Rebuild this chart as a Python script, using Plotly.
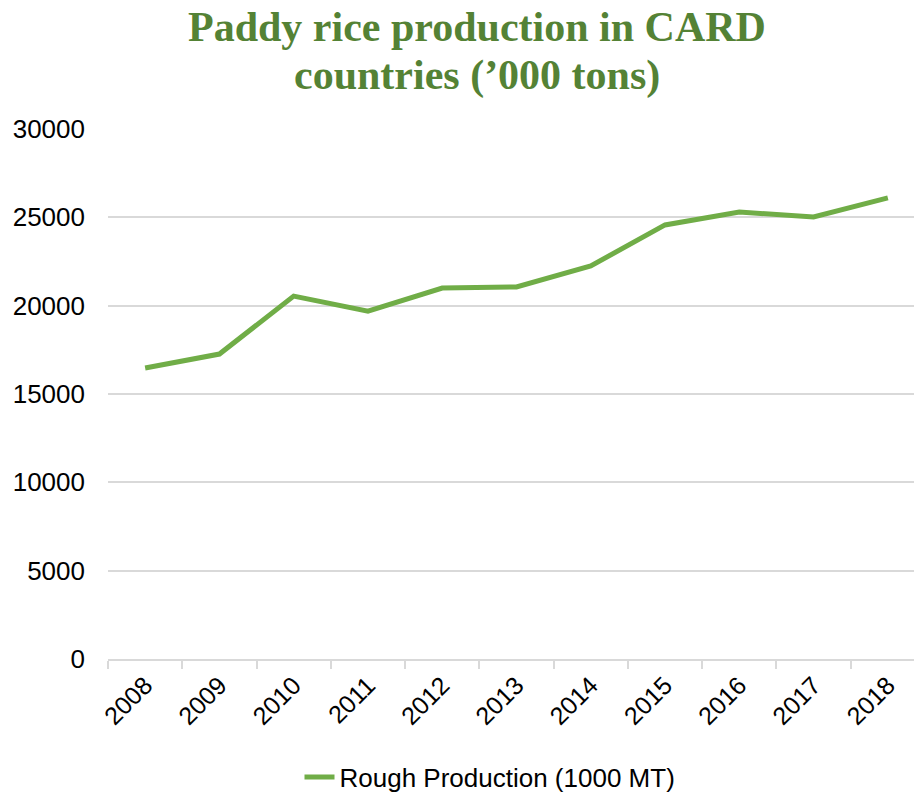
import plotly.graph_objects as go

years = ["2008", "2009", "2010", "2011", "2012", "2013", "2014", "2015", "2016", "2017", "2018"]
production = [16470, 17260, 20540, 19690, 21000, 21060, 22250, 24570, 25300, 25020, 26100]
y_ticks = [0, 5000, 10000, 15000, 20000, 25000, 30000]
title_lines = ["Paddy rice production in CARD", "countries (’000 tons)"]

# page is rendered with a body margin, so the figure is offset slightly
W, H = 922, 795
L, R, T, B = 95, 5, 121, 144
PH = H - T - B
PW = W - L - R
OX = 8  # horizontal page offset

fig = go.Figure()
fig.add_trace(go.Scatter(
    x=years, y=production, mode="lines",
    name="Rough Production (1000 MT)",
    line=dict(color="#70AD47", width=5),
))

title_center_x = (474 - OX - L) / PW
for text, mid in zip(title_lines, [19, 68]):
    fig.add_annotation(
        text=text,
        font=dict(family="Liberation Serif", size=42, color="#548235", weight="bold"),
        x=title_center_x, xref="paper", xanchor="center",
        y=1 + (T - mid) / PH, yref="paper", yanchor="middle",
        showarrow=False,
    )

fig.update_layout(
    width=W, height=H,
    margin=dict(l=L, r=R, t=T, b=B),
    paper_bgcolor="white", plot_bgcolor="white",
    showlegend=True,
    legend=dict(
        orientation="h", x=(490 - OX) / W, xanchor="center", xref="container",
        y=1 - 769 / H, yanchor="middle", yref="container",
        font=dict(family="Liberation Sans", size=26, color="#000000"),
    ),
    xaxis=dict(
        type="category",
        range=[-0.5, len(years) - 0.5],
        tickson="boundaries",
        ticks="outside", ticklen=8, tickcolor="#d9d9d9", tickwidth=1.5,
        showline=True, linecolor="#d9d9d9", linewidth=1.5,
        showgrid=False,
        tickangle=-45,
        tickfont=dict(family="Liberation Sans", size=25, color="#000000"),
    ),
    yaxis=dict(
        range=[0, 30000],
        tickvals=y_ticks,
        ticktext=[str(v) for v in y_ticks],
        showgrid=True, gridcolor="#d9d9d9", gridwidth=1.5,
        zeroline=False, showline=False,
        ticks="", ticklabelstandoff=22,
        tickfont=dict(family="Liberation Sans", size=26, color="#000000"),
    ),
)

fig.write_html("out.html")
